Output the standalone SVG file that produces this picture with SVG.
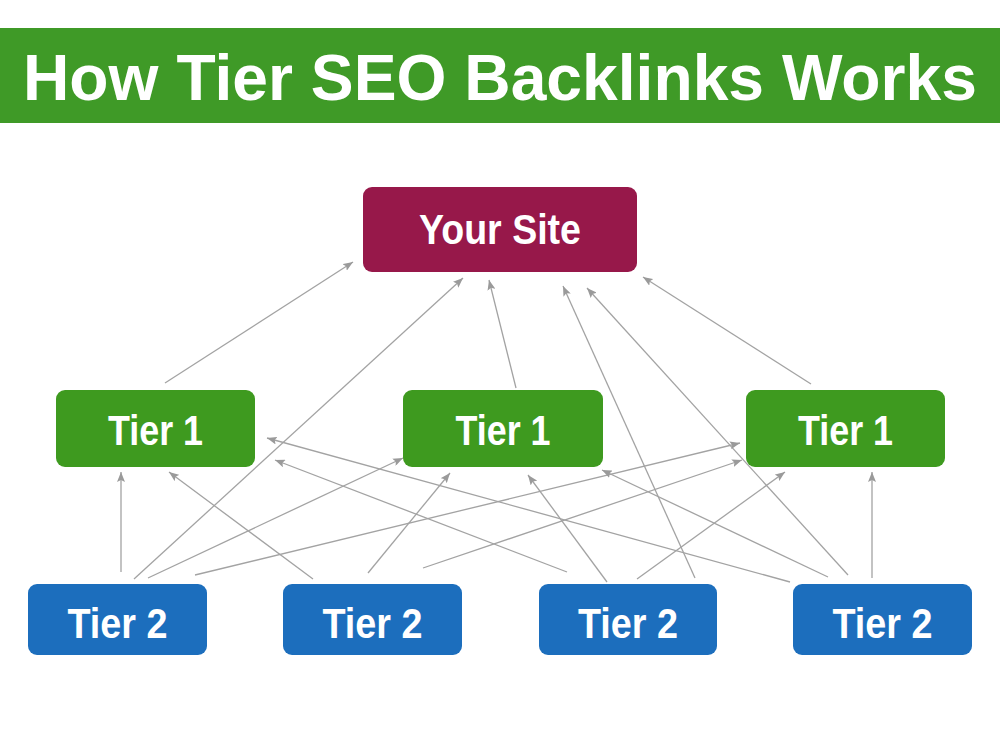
<svg xmlns="http://www.w3.org/2000/svg" width="1000" height="750" viewBox="0 0 1000 750">
<style>
.lbl{font-family:"Liberation Sans",Arial,sans-serif;font-weight:bold;fill:#fff;text-anchor:middle;font-size:43px}
.ln{stroke:#a3a3a3;stroke-width:1.3;fill:none;marker-end:url(#ah)}
.t1{fill:#3e9a1f}
.t2{fill:#1c6ebd}
</style>
<defs>
<marker id="ah" markerUnits="userSpaceOnUse" markerWidth="11" markerHeight="8" refX="10" refY="4" orient="auto">
<path d="M0,0 L10,4 L0,8 L2,4 z" fill="#9a9a9a"/>
</marker>
</defs>
<rect width="1000" height="750" fill="#fff"/>
<g id="header">
<rect x="0" y="28" width="1000" height="95" fill="#3f9a27"/>
<text x="500" y="100" font-family="Liberation Sans,Arial,sans-serif" font-weight="bold" font-size="64" fill="#fff" text-anchor="middle" textLength="954" lengthAdjust="spacingAndGlyphs">How Tier SEO Backlinks Works</text>
</g>
<g id="connectors">
<line class="ln" x1="165" y1="383" x2="353" y2="262"/>
<line class="ln" x1="516" y1="388" x2="489" y2="280"/>
<line class="ln" x1="811" y1="384" x2="643" y2="277"/>
<line class="ln" x1="134" y1="579" x2="463" y2="278"/>
<line class="ln" x1="695" y1="578" x2="563" y2="286"/>
<line class="ln" x1="848" y1="575" x2="587" y2="288"/>
<line class="ln" x1="121" y1="572" x2="121" y2="472"/>
<line class="ln" x1="313" y1="579" x2="169" y2="472"/>
<line class="ln" x1="148" y1="578" x2="403" y2="458"/>
<line class="ln" x1="195" y1="575" x2="740" y2="443"/>
<line class="ln" x1="368" y1="573" x2="450" y2="473"/>
<line class="ln" x1="423" y1="568" x2="742" y2="460"/>
<line class="ln" x1="790" y1="582" x2="267" y2="438"/>
<line class="ln" x1="567" y1="572" x2="275" y2="460"/>
<line class="ln" x1="607" y1="582" x2="528" y2="475"/>
<line class="ln" x1="637" y1="579" x2="785" y2="472"/>
<line class="ln" x1="828" y1="577" x2="602" y2="470"/>
<line class="ln" x1="872" y1="578" x2="872" y2="472"/>
</g>
<g id="your-site">
<rect x="363" y="187" width="274" height="85" rx="9" fill="#97184a"/>
<text class="lbl" x="500" y="244" textLength="162" lengthAdjust="spacingAndGlyphs">Your Site</text>
</g>
<g id="tier1-left">
<rect class="t1" x="56" y="390" width="199" height="77" rx="9"/>
<text class="lbl" x="155.5" y="445" textLength="95" lengthAdjust="spacingAndGlyphs">Tier 1</text>
</g>
<g id="tier1-mid">
<rect class="t1" x="403" y="390" width="200" height="77" rx="9"/>
<text class="lbl" x="503" y="445" textLength="95" lengthAdjust="spacingAndGlyphs">Tier 1</text>
</g>
<g id="tier1-right">
<rect class="t1" x="746" y="390" width="199" height="77" rx="9"/>
<text class="lbl" x="845.5" y="445" textLength="95" lengthAdjust="spacingAndGlyphs">Tier 1</text>
</g>
<g id="tier2-1">
<rect class="t2" x="28" y="584" width="179" height="71" rx="9"/>
<text class="lbl" x="117.5" y="638" textLength="100" lengthAdjust="spacingAndGlyphs">Tier 2</text>
</g>
<g id="tier2-2">
<rect class="t2" x="283" y="584" width="179" height="71" rx="9"/>
<text class="lbl" x="372.5" y="638" textLength="100" lengthAdjust="spacingAndGlyphs">Tier 2</text>
</g>
<g id="tier2-3">
<rect class="t2" x="539" y="584" width="178" height="71" rx="9"/>
<text class="lbl" x="628" y="638" textLength="100" lengthAdjust="spacingAndGlyphs">Tier 2</text>
</g>
<g id="tier2-4">
<rect class="t2" x="793" y="584" width="179" height="71" rx="9"/>
<text class="lbl" x="882.5" y="638" textLength="100" lengthAdjust="spacingAndGlyphs">Tier 2</text>
</g>
</svg>
